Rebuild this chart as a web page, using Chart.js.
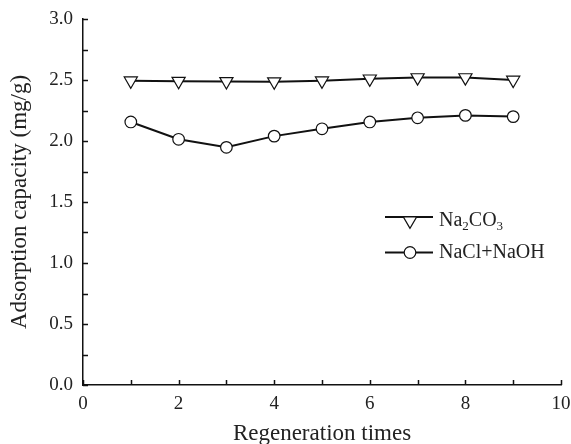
<!DOCTYPE html>
<html><head><meta charset="utf-8">
<script src="https://cdn.jsdelivr.net/npm/chart.js@4/dist/chart.umd.min.js"></script>
<style>html,body{margin:0;padding:0;background:#fff;}#wrap{width:571px;height:444px;position:relative;}</style>
</head><body>
<div id="wrap"><canvas id="c" width="571" height="444"></canvas></div>
<script>
// ---- data ----
const regenerationTimes = [1, 2, 3, 4, 5, 6, 7, 8, 9];
const na2co3Capacity = [2.494, 2.490, 2.488, 2.486, 2.494, 2.510, 2.520, 2.520, 2.500];
const naclNaohCapacity = [2.156, 2.014, 1.948, 2.040, 2.100, 2.156, 2.190, 2.210, 2.200];
const seriesLabels = ['Na2CO3', 'NaCl+NaOH'];
const xTickValues = [0, 2, 4, 6, 8, 10];
const yTickValues = [0.0, 0.5, 1.0, 1.5, 2.0, 2.5, 3.0];
const xMinorStep = 1;
const yMinorStep = 0.25;
const xTitle = 'Regeneration times';
const yTitle = 'Adsorption capacity (mg/g)';

const FONT = "'Liberation Serif', 'Times New Roman', serif";
const INK = '#222';

function toPoints(xs, ys) { return xs.map((x, i) => ({x: x, y: ys[i]})); }

// inward tick marks
const innerTicks = {
  id: 'innerTicks',
  afterDraw(chart) {
    const ctx = chart.ctx, xs = chart.scales.x, ys = chart.scales.y;
    const len = 5;
    ctx.save();
    ctx.strokeStyle = '#111';
    ctx.lineWidth = 1.5;
    ctx.beginPath();
    for (let v = xs.min; v <= xs.max + 1e-9; v += xMinorStep) {
      const px = Math.round(xs.getPixelForValue(v)) + 0.5;
      ctx.moveTo(px, ys.bottom);
      ctx.lineTo(px, ys.bottom - len);
    }
    for (let v = ys.min; v <= ys.max + 1e-9; v += yMinorStep) {
      const py = Math.round(ys.getPixelForValue(v)) + 0.5;
      ctx.moveTo(xs.left, py);
      ctx.lineTo(xs.left + len, py);
    }
    ctx.stroke();
    ctx.restore();
  }
};

// legend with chemical subscripts
function segments(label) {
  const out = [];
  const re = /([A-Za-z\+\)\(]+)|(\d+)/g;
  let m;
  while ((m = re.exec(label)) !== null) {
    if (m[1]) out.push({t: m[1], sub: false});
    else out.push({t: m[2], sub: true});
  }
  return out;
}
const customLegend = {
  id: 'customLegend',
  afterDraw(chart) {
    const ctx = chart.ctx;
    const rows = [{lineY: 217, textY: 221}, {lineY: 252.5, textY: 253}];
    const x0 = 385, x1 = 433, mx = 410, tx = 439;
    chart.data.datasets.forEach((ds, i) => {
      const r = rows[i];
      ctx.save();
      ctx.strokeStyle = ds.borderColor;
      ctx.lineWidth = ds.borderWidth;
      ctx.beginPath();
      ctx.moveTo(x0, r.lineY);
      ctx.lineTo(x1, r.lineY);
      ctx.stroke();
      ctx.fillStyle = ds.pointBackgroundColor;
      ctx.strokeStyle = ds.pointBorderColor;
      ctx.lineWidth = ds.pointBorderWidth;
      const my = ds.pointStyle === 'triangle' ? r.lineY + ds.pointRadius / 2 : r.lineY;
      Chart.helpers.drawPoint(ctx, {pointStyle: ds.pointStyle, rotation: ds.pointRotation || 0, radius: ds.pointRadius, borderWidth: ds.pointBorderWidth}, mx, my);
      ctx.fillStyle = INK;
      ctx.textBaseline = 'middle';
      ctx.textAlign = 'left';
      let x = tx;
      segments(ds.label).forEach(s => {
        ctx.font = (s.sub ? '13px ' : '20px ') + FONT;
        ctx.fillText(s.t, x, r.textY + (s.sub ? 6 : 0));
        x += ctx.measureText(s.t).width;
      });
      ctx.restore();
    });
  }
};

new Chart(document.getElementById('c'), {
  type: 'line',
  data: {
    datasets: [
      {
        label: seriesLabels[0],
        data: toPoints(regenerationTimes, na2co3Capacity),
        borderColor: '#111', borderWidth: 2,
        pointStyle: 'triangle', pointRotation: 180, pointRadius: 7.6,
        pointBackgroundColor: '#fff', pointBorderColor: '#111', pointBorderWidth: 1.2,
        fill: false, tension: 0
      },
      {
        label: seriesLabels[1],
        data: toPoints(regenerationTimes, naclNaohCapacity),
        borderColor: '#111', borderWidth: 2,
        pointStyle: 'circle', pointRadius: 5.8,
        pointBackgroundColor: '#fff', pointBorderColor: '#111', pointBorderWidth: 1.2,
        fill: false, tension: 0
      }
    ]
  },
  options: {
    responsive: false,
    animation: false,
    devicePixelRatio: 1,
    layout: {padding: {top: 19, right: 10, bottom: 0, left: 0}},
    plugins: {legend: {display: false}, tooltip: {enabled: false}},
    scales: {
      x: {
        type: 'linear', min: 0, max: 10,
        afterBuildTicks(s) { s.ticks = xTickValues.map(v => ({value: v})); },
        ticks: {font: {family: FONT, size: 19}, color: INK, padding: 8, maxRotation: 0, autoSkip: false},
        grid: {display: false, drawTicks: false},
        border: {display: true, color: '#111', width: 1.5},
        title: {display: true, text: xTitle, font: {family: FONT, size: 23, lineHeight: 0.87}, color: INK, padding: {top: 0, bottom: 0}},
        afterFit(s) { s.height = 59; s.paddingLeft = 0; s.paddingRight = 0; }
      },
      y: {
        type: 'linear', min: 0, max: 3,
        afterBuildTicks(s) { s.ticks = yTickValues.map(v => ({value: v})); },
        ticks: {font: {family: FONT, size: 19}, color: INK, padding: 10, callback: v => v.toFixed(1)},
        grid: {display: false, drawTicks: false},
        border: {display: true, color: '#111', width: 1.5},
        title: {display: true, text: yTitle, font: {family: FONT, size: 23, lineHeight: 1.2}, color: INK, padding: {top: 6, bottom: 0}},
        afterFit(s) { s.width = 83; s.paddingTop = 0; s.paddingBottom = 0; }
      }
    }
  },
  plugins: [innerTicks, customLegend]
});
</script>
</body></html>
